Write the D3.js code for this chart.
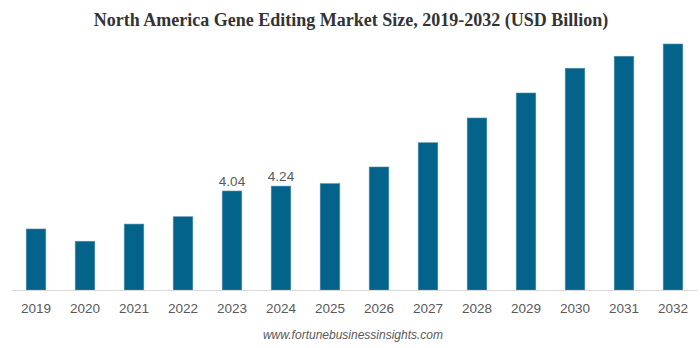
<!DOCTYPE html>
<html><head><meta charset="utf-8">
<script src="https://cdn.jsdelivr.net/npm/d3@7"></script>
<style>body{margin:0;background:#fff}svg{display:block}</style>
</head><body>
<svg id="c" width="700" height="348"></svg>
<script>
const years = ["2019","2020","2021","2022","2023","2024","2025","2026","2027","2028","2029","2030","2031","2032"];
const values = [2.49,1.99,2.69,2.99,4.04,4.24,4.34,5.02,6.01,7.02,8.04,9.05,9.54,10.04];
const labelled = ["2023","2024"];
const title = "North America Gene Editing Market Size, 2019-2032 (USD Billion)";
const source = "www.fortunebusinessinsights.com";

const svg = d3.select("#c");
const x = d3.scaleBand().domain(years).range([11.5, 697.5]).paddingInner(0.6).paddingOuter(0.3);
const y = d3.scaleLinear().domain([0, 10.04]).range([290, 44]);

svg.append("text").attr("x", 351).attr("y", 26).attr("text-anchor", "middle")
  .attr("font-family", "Liberation Serif, Times New Roman, serif").attr("font-weight", "bold")
  .attr("font-size", 18).attr("fill", "#333").text(title);

svg.selectAll("rect.bar").data(years).join("rect").attr("class","bar")
  .attr("x", d => x(d)).attr("width", x.bandwidth())
  .attr("y", (d,i) => y(values[i])).attr("height", (d,i) => y(0) - y(values[i]))
  .attr("fill", "#04638a").attr("stroke", "#4d8fab").attr("stroke-width", 0.6);

const ax = svg.append("g").attr("transform", "translate(0,290)")
  .call(d3.axisBottom(x).tickSize(0).tickPadding(13));
ax.select(".domain").attr("stroke", "#d9d9d9").attr("stroke-width", 1.2).attr("d", "M11.5,0.5H697.5");
ax.selectAll("text").attr("font-family", "Liberation Sans, Arial, sans-serif").attr("font-size", 13.5).attr("fill", "#595959");

svg.selectAll("text.lbl").data(years.filter(d => labelled.includes(d))).join("text").attr("class","lbl")
  .attr("x", d => x(d) + x.bandwidth()/2).attr("y", d => y(values[years.indexOf(d)]) - 5)
  .attr("text-anchor", "middle").attr("font-family", "Liberation Sans, Arial, sans-serif")
  .attr("font-size", 13.5).attr("fill", "#595959").text(d => values[years.indexOf(d)].toFixed(2));

svg.append("text").attr("x", 353).attr("y", 339).attr("text-anchor", "middle")
  .attr("font-family", "Liberation Sans, Arial, sans-serif").attr("font-style", "italic")
  .attr("font-size", 12).attr("fill", "#595959").text(source);
</script>
</body></html>
